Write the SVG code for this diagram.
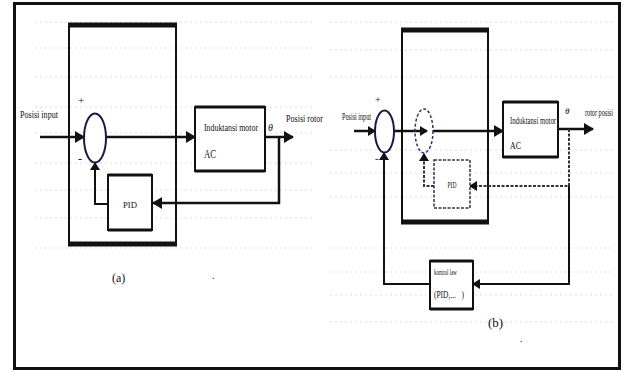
<svg xmlns="http://www.w3.org/2000/svg" width="625" height="372" viewBox="0 0 625 372">
<style>
.t{font-family:"Liberation Serif","DejaVu Serif",serif;fill:#111}
.ln{stroke:#111;stroke-width:2.5;fill:none}
.thin{stroke:#111;stroke-width:2;fill:none}
.dsh{stroke:#333;stroke-width:2;fill:none;stroke-dasharray:3 1.5}
.box{fill:#fff;stroke:#111;stroke-width:2}
.grid{stroke:#cfe0e0;stroke-width:1;stroke-dasharray:2 3;fill:none}
</style>
<defs>
<marker id="ah" markerUnits="userSpaceOnUse" markerWidth="10" markerHeight="12" refX="9" refY="6" orient="auto"><path d="M0,0 L10,6 L0,12 Z" fill="#111"/></marker>
<marker id="ahs" markerUnits="userSpaceOnUse" markerWidth="8" markerHeight="10" refX="7" refY="5" orient="auto"><path d="M0,0 L8,5 L0,10 Z" fill="#111"/></marker>
</defs>
<rect x="0" y="0" width="625" height="372" fill="#fff"/>
<g id="grid">
<path class="grid" d="M35,22H315M35,48H315M35,77H315M35,107H315M35,133H315M35,163H315M35,190H315M35,218H315M35,248H315"/>
<path class="grid" d="M330,22H612M330,50H612M330,77H612M330,150H612M330,173H612M330,197H612M330,248H612M330,272H612M330,295H612M330,322H612"/>
</g>
<rect x="14.5" y="3.5" width="605" height="365" fill="none" stroke="#111" stroke-width="3"/>
<g id="frame-a">
<rect x="69" y="25" width="107" height="219" fill="none" stroke="#111" stroke-width="2"/>
<path d="M68,25H177M68,244H177" stroke="#111" stroke-width="5"/>
</g>
<g id="frame-b">
<rect x="402" y="30" width="86" height="192" fill="none" stroke="#111" stroke-width="2"/>
<path d="M401,30H489M401,222H489" stroke="#111" stroke-width="5"/>
</g>
<g id="connectors">
<path class="ln" d="M40,137H84" marker-end="url(#ah)"/>
<path class="ln" d="M106,137H195" marker-end="url(#ah)"/>
<path class="ln" d="M265,137H293" marker-end="url(#ah)"/>
<path class="ln" d="M279,137V203H153" marker-end="url(#ah)"/>
<path class="thin" d="M108,204H95V163" marker-end="url(#ahs)"/>
<path class="ln" d="M354,131H375" marker-end="url(#ahs)"/>
<path class="ln" d="M394,131H427" marker-end="url(#ahs)"/>
<path class="ln" d="M433,131H503" marker-end="url(#ah)"/>
<path class="ln" d="M558,129H593" marker-end="url(#ah)"/>
<path class="dsh" d="M569,129V186H470" marker-end="url(#ahs)"/>
<path class="dsh" d="M434,186H424V154" marker-end="url(#ahs)"/>
<path class="thin" d="M569,186V284H473" marker-end="url(#ahs)"/>
<path class="thin" d="M430,284H384V153" marker-end="url(#ahs)"/>
</g>
<g id="sum-a">
<ellipse cx="95" cy="138" rx="11" ry="24.5" fill="#fff" stroke="#1a1a40" stroke-width="2"/>
<text class="t" x="78" y="104" font-size="11">+</text>
<text class="t" x="78" y="163" font-size="12">-</text>
</g>
<g id="motor-a">
<rect class="box" x="195" y="107" width="70" height="64"/>
<path d="M195,107H265M195,171H265" stroke="#111" stroke-width="3"/>
<text class="t" x="204" y="131" font-size="11" textLength="54" lengthAdjust="spacingAndGlyphs">Induktansi motor</text>
<text class="t" x="204" y="158" font-size="12" textLength="12" lengthAdjust="spacingAndGlyphs">AC</text>
</g>
<g id="pid-a">
<rect class="box" x="108" y="175" width="44" height="55"/>
<path d="M108,175H152M108,230H152" stroke="#111" stroke-width="3"/>
<text class="t" x="130" y="208" font-size="9" text-anchor="middle" textLength="14" lengthAdjust="spacingAndGlyphs">PID</text>
</g>
<g id="labels-a">
<text class="t" x="20" y="118" font-size="11" textLength="38" lengthAdjust="spacingAndGlyphs">Posisi input</text>
<text class="t" x="286" y="122" font-size="11" textLength="37" lengthAdjust="spacingAndGlyphs">Posisi rotor</text>
<text class="t" x="268" y="131" font-size="10" font-style="italic">θ</text>
<text class="t" x="112" y="282" font-size="12">(a)</text>
<text class="t" x="212" y="279" font-size="10">.</text>
</g>
<g id="sum1-b">
<ellipse cx="384.5" cy="131.5" rx="9.5" ry="21" fill="#fff" stroke="#1a1a40" stroke-width="2"/>
<text class="t" x="375" y="103" font-size="10">+</text>
<text class="t" x="375" y="162" font-size="11">-</text>
</g>
<g id="sum2-b">
<ellipse cx="424" cy="131" rx="9" ry="22" fill="none" stroke="#33336a" stroke-width="1.5" stroke-dasharray="3 2"/>
</g>
<g id="motor-b">
<rect class="box" x="503" y="102" width="55" height="55"/>
<path d="M503,102H558M503,157H558" stroke="#111" stroke-width="3"/>
<text class="t" x="510" y="124" font-size="10" textLength="46" lengthAdjust="spacingAndGlyphs">Induktansi motor</text>
<text class="t" x="510" y="149" font-size="11" textLength="11" lengthAdjust="spacingAndGlyphs">AC</text>
</g>
<g id="pid-b">
<rect x="434" y="160" width="36" height="48" fill="#fff" stroke="#333" stroke-width="1.5" stroke-dasharray="3 1.5"/>
<text class="t" x="452" y="188" font-size="8" text-anchor="middle" textLength="9" lengthAdjust="spacingAndGlyphs">PID</text>
</g>
<g id="kontrol-b">
<rect class="box" x="430" y="261" width="43" height="48"/>
<path d="M430,261H473M430,309H473" stroke="#111" stroke-width="3"/>
<text class="t" x="434" y="275" font-size="9" textLength="23" lengthAdjust="spacingAndGlyphs">kontrol law</text>
<text class="t" x="434" y="298" font-size="10" textLength="30" lengthAdjust="spacingAndGlyphs" xml:space="preserve">(PID,...   )</text>
</g>
<g id="labels-b">
<text class="t" x="342" y="120" font-size="10" textLength="29" lengthAdjust="spacingAndGlyphs">Posisi input</text>
<text class="t" x="585" y="116" font-size="10" textLength="28" lengthAdjust="spacingAndGlyphs">rotor posisi</text>
<text class="t" x="565" y="114" font-size="9" font-style="italic">θ</text>
<text class="t" x="488" y="327" font-size="13" font-family="Liberation Sans,sans-serif">(b)</text>
<text class="t" x="520" y="342" font-size="10">.</text>
</g>
</svg>
